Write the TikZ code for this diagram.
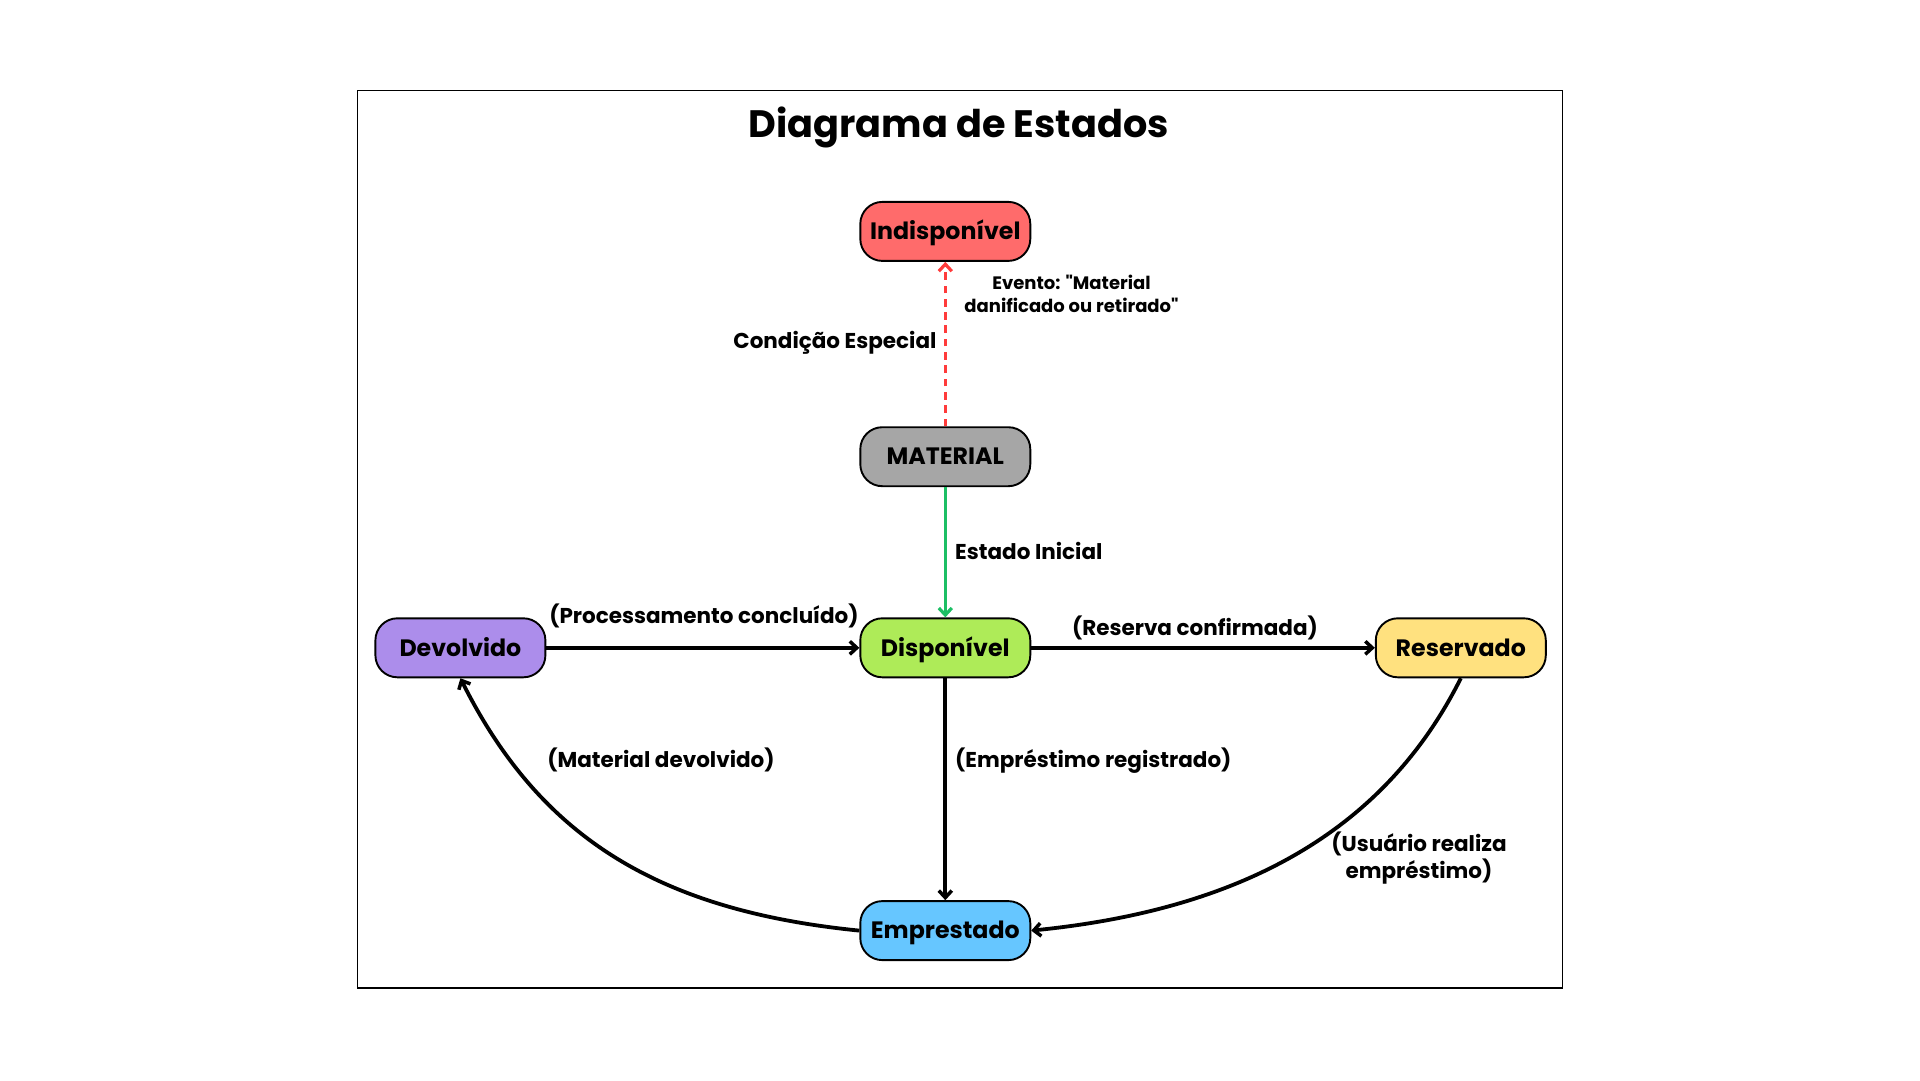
\documentclass[tikz,border=0pt]{standalone}
\usepackage{fontspec}
\setmainfont{Poppins}
\newfontfamily\popplain{Poppins}
\usetikzlibrary{arrows.meta}
\definecolor{cred}{HTML}{FF6B6B}
\definecolor{cgray}{HTML}{A6A6A6}
\definecolor{cgreen}{HTML}{AEEB58}
\definecolor{cpurple}{HTML}{AC8DEB}
\definecolor{cyellow}{HTML}{FFE17F}
\definecolor{cblue}{HTML}{66C6FF}
\definecolor{agreen}{HTML}{1DBF65}
\definecolor{ared}{HTML}{FF3B3B}
\newcommand{\sq}{{\popplain\bfseries"}}
\begin{document}
\begin{tikzpicture}[x=1pt,y=1pt,
  state/.style={draw=black, line width=1.9pt, rounded corners=22pt,
    minimum width=170pt, minimum height=59pt, inner sep=0pt,
    text height=16.5pt, text depth=0pt,
    font=\fontsize{23.7}{28}\selectfont\bfseries},
  arr/.style={line width=3.8pt, -{Straight Barb[length=7pt,width=13pt,line width=3.5pt]}},
  carr/.style={line width=3.4pt, -{Straight Barb[length=7pt,width=13pt,line width=3.2pt]}},
  lbl/.style={font=\fontsize{21.5}{26.5}\selectfont\bfseries, inner sep=0pt},
  small/.style={font=\fontsize{18}{23}\selectfont\bfseries, inner sep=0pt, align=center}]
\useasboundingbox (0,0) rectangle (1920,-1080);
\draw[line width=1.5pt] (357.5,-90.6) rectangle (1562.5,-988.2);
\node[font=\fontsize{38.2}{46}\selectfont\bfseries] (title) at (958.8,-127.5) {Diagrama de Estados};

\node[state, fill=cred] (ind) at (945.3,-231.4) {Indisponível};
\node[state, fill=cgray] (mat) at (945.3,-456.7) {MATERIAL};
\node[state, fill=cgreen] (dis) at (945.3,-647.8) {Disponível};
\node[state, fill=cpurple] (dev) at (460.4,-647.8) {Devolvido};
\node[state, fill=cyellow] (res) at (1460.8,-647.8) {Reservado};
\node[state, fill=cblue] (emp) at (945.3,-930.6) {Emprestado};

\draw[carr, ared, dash pattern=on 7.7pt off 5.6pt] (mat) -- (ind);
\draw[carr, agreen] (mat) -- (dis);
\draw[arr] (dev) -- (dis);
\draw[arr] (dis) -- (res);
\draw[arr] (dis) -- (emp);
\draw[arr] (res.south) .. controls +(-80,-160) and +(200,20) .. (emp.east);
\draw[arr] (emp.west) .. controls +(-200,20) and +(80,-160) .. (dev.south);

\node[lbl, anchor=east] (l1) at (936.7,-343) {Condição Especial};
\node[small] (l2) at (1071.5,-293.5) {Evento: \sq Material\\danificado ou retirado\sq};
\node[lbl, anchor=west] (l3) at (955,-551) {Estado Inicial};
\node[lbl] (l4) at (704,-616) {(Processamento concluído)};
\node[lbl] (l5) at (1195,-628) {(Reserva confirmada)};
\node[lbl, anchor=west] (l6) at (955,-760.4) {(Empréstimo registrado)};
\node[lbl] (l7) at (661,-760.4) {(Material devolvido)};
\node[lbl, align=center] (l8) at (1419,-858) {(Usuário realiza\\empréstimo)};
\end{tikzpicture}
\end{document}
